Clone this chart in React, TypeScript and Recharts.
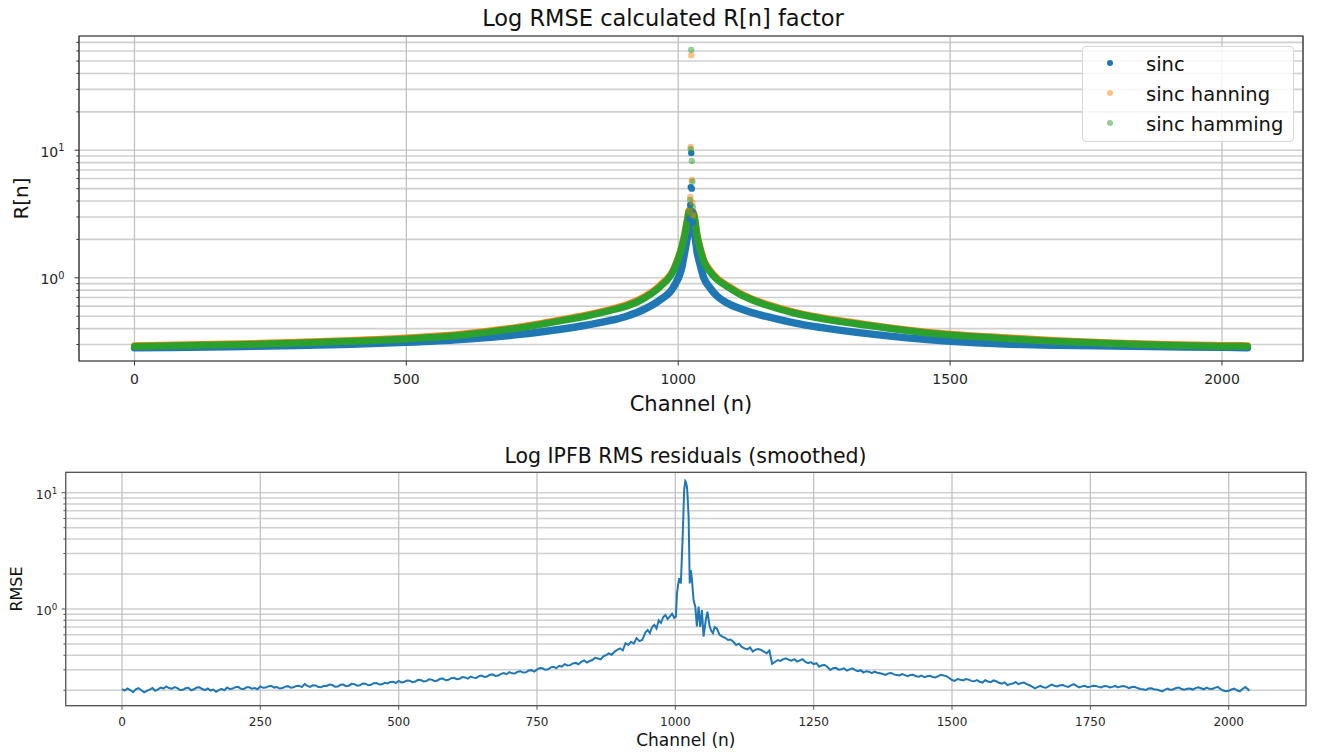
import React from 'react';
import {
  ComposedChart,
  LineChart,
  Line,
  Scatter,
  XAxis,
  YAxis,
  CartesianGrid,
  ReferenceArea,
  Legend,
} from 'recharts';

const FONT = '"DejaVu Sans", sans-serif';
const BLUE = '#1f77b4';
const ORANGE = '#ff7f0e';
const GREEN = '#2ca02c';

// ---- top panel: R[n] per channel (dense band) ----
const bandChannels = [
  0, 100, 200, 300, 400, 500, 600, 700, 784, 830, 876, 905, 937, 967, 992, 1007, 1012, 1017, 1020,
  1028, 1035, 1040, 1047, 1058, 1072, 1090, 1121, 1160, 1213, 1336, 1458, 1581, 1691, 1800, 1900, 2000, 2047,
];
const sincBand = [
  0.283, 0.286, 0.29, 0.295, 0.302, 0.312, 0.328, 0.357, 0.395, 0.425, 0.463, 0.5, 0.565, 0.673, 0.855, 1.23, 1.6, 2.1, 2.5,
  2.45, 1.57, 1.28, 1.0, 0.84, 0.715, 0.634, 0.56, 0.5, 0.443, 0.37, 0.328, 0.305, 0.296, 0.292, 0.288, 0.285, 0.283,
];
const hanningBand = [
  0.294, 0.299, 0.304, 0.312, 0.323, 0.337, 0.361, 0.407, 0.468, 0.509, 0.566, 0.614, 0.707, 0.876, 1.18, 1.8, 2.22, 2.91, 3.38,
  3.28, 2.15, 1.74, 1.38, 1.15, 0.985, 0.87, 0.727, 0.625, 0.538, 0.437, 0.375, 0.343, 0.323, 0.309, 0.3, 0.295, 0.294,
];
const hammingBand = [
  0.29, 0.295, 0.3, 0.308, 0.318, 0.332, 0.355, 0.4, 0.46, 0.5, 0.555, 0.6, 0.69, 0.855, 1.155, 1.76, 2.17, 2.84, 3.3,
  3.2, 2.1, 1.7, 1.35, 1.12, 0.965, 0.855, 0.715, 0.615, 0.53, 0.43, 0.37, 0.338, 0.318, 0.305, 0.296, 0.291, 0.29,
];

// isolated dots around the centre channel
const peakChannels = [1021, 1022, 1023, 1024, 1025, 1026, 1027];
const sincPeak = [2.9, 3.72, 5.14, 9.53, 5.0, 3.3, 2.7];
const hanningPeak = [3.3, 4.3, 10.6, 55.6, 5.83, 3.9, 3.1];
const hammingPeak = [3.2, 4.07, 10.2, 61.2, 8.25, 5.66, 3.6];

const topXTicks = [0, 500, 1000, 1500, 2000];
const topYTicks = [0.3, 0.4, 0.5, 0.6, 0.7, 0.8, 0.9, 1, 2, 3, 4, 5, 6, 7, 8, 9, 10, 20, 30, 40, 50, 60, 70];
const TOP_X = [-102, 2149];
const TOP_Y = [0.2228, 78.6];

// ---- bottom panel: smoothed RMS residuals [channel, value] ----
const residualsLeft: [number, number][] = [
  [0, 0.205], [5, 0.199], [10, 0.207], [15, 0.201], [20, 0.193], [25, 0.204], [30, 0.209], [35, 0.2], [40, 0.192], [45, 0.198],
  [50, 0.203], [55, 0.209], [60, 0.198], [65, 0.204], [70, 0.211], [75, 0.207], [80, 0.216], [85, 0.209], [90, 0.206], [95, 0.213],
  [100, 0.209], [105, 0.201], [110, 0.202], [115, 0.208], [120, 0.21], [125, 0.2], [130, 0.204], [135, 0.211], [140, 0.212], [145, 0.205],
  [150, 0.201], [155, 0.207], [160, 0.199], [165, 0.203], [170, 0.194], [175, 0.201], [180, 0.206], [185, 0.2], [190, 0.211], [195, 0.205],
  [200, 0.207], [205, 0.213], [210, 0.214], [215, 0.206], [220, 0.205], [225, 0.212], [230, 0.212], [235, 0.206], [240, 0.209], [245, 0.204],
  [250, 0.216], [255, 0.21], [260, 0.211], [265, 0.217], [270, 0.218], [275, 0.211], [280, 0.213], [285, 0.207], [290, 0.209], [295, 0.215],
  [300, 0.217], [305, 0.21], [310, 0.212], [315, 0.218], [320, 0.219], [325, 0.213], [330, 0.226], [335, 0.218], [340, 0.214], [345, 0.221],
  [350, 0.22], [355, 0.213], [360, 0.212], [365, 0.219], [370, 0.218], [375, 0.224], [380, 0.222], [385, 0.215], [390, 0.216], [395, 0.223],
  [400, 0.224], [405, 0.217], [410, 0.219], [415, 0.227], [420, 0.226], [425, 0.219], [430, 0.221], [435, 0.229], [440, 0.228], [445, 0.221],
  [450, 0.223], [455, 0.23], [460, 0.231], [465, 0.224], [470, 0.225], [475, 0.232], [480, 0.229], [485, 0.236], [490, 0.237], [495, 0.231],
  [500, 0.241], [505, 0.234], [510, 0.236], [515, 0.243], [520, 0.242], [525, 0.235], [530, 0.238], [535, 0.246], [540, 0.245], [545, 0.238],
  [550, 0.24], [555, 0.249], [560, 0.247], [565, 0.24], [570, 0.243], [575, 0.251], [580, 0.252], [585, 0.244], [590, 0.246], [595, 0.254],
  [600, 0.256], [605, 0.249], [610, 0.251], [615, 0.26], [620, 0.258], [625, 0.252], [630, 0.262], [635, 0.257], [640, 0.255], [645, 0.264],
  [650, 0.268], [655, 0.26], [660, 0.263], [665, 0.272], [670, 0.274], [675, 0.266], [680, 0.268], [685, 0.277], [690, 0.281], [695, 0.275],
  [700, 0.287], [705, 0.28], [710, 0.279], [715, 0.289], [720, 0.292], [725, 0.284], [730, 0.286], [735, 0.296], [740, 0.298], [745, 0.29],
  [750, 0.301], [755, 0.311], [760, 0.309], [765, 0.3], [770, 0.303], [775, 0.315], [780, 0.318], [785, 0.31], [790, 0.325], [795, 0.319],
  [800, 0.336], [805, 0.327], [810, 0.329], [815, 0.341], [820, 0.344], [825, 0.335], [830, 0.352], [835, 0.362], [840, 0.346], [845, 0.357],
  [850, 0.364], [855, 0.38], [860, 0.375], [865, 0.369], [870, 0.392], [875, 0.401], [880, 0.415], [885, 0.404], [890, 0.428], [895, 0.446],
  [900, 0.459], [905, 0.44], [910, 0.508], [915, 0.49], [920, 0.523], [925, 0.505], [930, 0.562], [935, 0.53], [940, 0.541],
];
const residualsPeak: [number, number][] = [
  [946, 0.63], [950, 0.66], [954, 0.62], [958, 0.7], [962, 0.73], [966, 0.68], [970, 0.8], [974, 0.76], [978, 0.85], [982, 0.89],
  [986, 0.82], [990, 0.86], [994, 0.91], [998, 0.84], [1001, 0.86], [1003, 1.36], [1005, 1.62], [1007, 1.84], [1010, 1.66], [1013, 3.9],
  [1016, 10.6], [1018, 12.6], [1019, 12.4], [1021, 11.3], [1022, 9.6], [1024, 6.2], [1026, 1.66], [1028, 2.16], [1030, 1.78], [1033, 1.19],
  [1036, 1.05], [1039, 0.71], [1042, 1.05], [1045, 0.7], [1048, 0.98], [1051, 0.58], [1055, 0.8], [1058, 0.95], [1062, 0.71], [1065, 0.65],
  [1068, 0.62], [1071, 0.7], [1075, 0.68], [1080, 0.6],
];
const residualsRight: [number, number][] = [
  [1085, 0.578], [1090, 0.565], [1095, 0.541], [1100, 0.546], [1105, 0.52], [1110, 0.49], [1115, 0.503], [1120, 0.472], [1125, 0.459], [1130, 0.45],
  [1135, 0.468], [1140, 0.43], [1145, 0.447], [1150, 0.452], [1155, 0.444], [1160, 0.43], [1165, 0.416], [1170, 0.44], [1175, 0.337], [1180, 0.35],
  [1185, 0.364], [1190, 0.358], [1195, 0.37], [1200, 0.377], [1205, 0.366], [1210, 0.36], [1215, 0.37], [1220, 0.353], [1225, 0.362], [1230, 0.37],
  [1235, 0.35], [1240, 0.342], [1245, 0.349], [1250, 0.335], [1255, 0.342], [1260, 0.319], [1265, 0.328], [1270, 0.33], [1275, 0.317], [1280, 0.299],
  [1285, 0.31], [1290, 0.312], [1295, 0.301], [1300, 0.303], [1305, 0.309], [1310, 0.296], [1315, 0.303], [1320, 0.309], [1325, 0.298], [1330, 0.292],
  [1335, 0.298], [1340, 0.284], [1345, 0.292], [1350, 0.289], [1355, 0.281], [1360, 0.289], [1365, 0.283], [1370, 0.28], [1375, 0.276], [1380, 0.271],
  [1385, 0.279], [1390, 0.282], [1395, 0.274], [1400, 0.271], [1405, 0.268], [1410, 0.276], [1415, 0.27], [1420, 0.265], [1425, 0.271], [1430, 0.272],
  [1435, 0.264], [1440, 0.262], [1445, 0.268], [1450, 0.259], [1455, 0.264], [1460, 0.266], [1465, 0.26], [1470, 0.258], [1475, 0.265], [1480, 0.272],
  [1485, 0.268], [1490, 0.265], [1495, 0.255], [1500, 0.245], [1505, 0.241], [1510, 0.25], [1515, 0.246], [1520, 0.243], [1525, 0.25], [1530, 0.247],
  [1535, 0.241], [1540, 0.239], [1545, 0.245], [1550, 0.237], [1555, 0.233], [1560, 0.244], [1565, 0.238], [1570, 0.235], [1575, 0.243], [1580, 0.239],
  [1585, 0.232], [1590, 0.228], [1595, 0.234], [1600, 0.222], [1605, 0.226], [1610, 0.229], [1615, 0.235], [1620, 0.226], [1625, 0.231], [1630, 0.233],
  [1635, 0.226], [1640, 0.221], [1645, 0.215], [1650, 0.208], [1655, 0.214], [1660, 0.218], [1665, 0.212], [1670, 0.21], [1675, 0.217], [1680, 0.224],
  [1685, 0.219], [1690, 0.216], [1695, 0.221], [1700, 0.222], [1705, 0.217], [1710, 0.214], [1715, 0.22], [1720, 0.226], [1725, 0.218], [1730, 0.212],
  [1735, 0.216], [1740, 0.219], [1745, 0.213], [1750, 0.215], [1755, 0.219], [1760, 0.218], [1765, 0.214], [1770, 0.212], [1775, 0.218], [1780, 0.217],
  [1785, 0.212], [1790, 0.214], [1795, 0.218], [1800, 0.212], [1805, 0.216], [1810, 0.218], [1815, 0.214], [1820, 0.209], [1825, 0.213], [1830, 0.214],
  [1835, 0.209], [1840, 0.205], [1845, 0.204], [1850, 0.201], [1855, 0.207], [1860, 0.208], [1865, 0.204], [1870, 0.203], [1875, 0.199], [1880, 0.196],
  [1885, 0.203], [1890, 0.207], [1895, 0.201], [1900, 0.204], [1905, 0.209], [1910, 0.211], [1915, 0.205], [1920, 0.202], [1925, 0.206], [1930, 0.207],
  [1935, 0.203], [1940, 0.209], [1945, 0.212], [1950, 0.208], [1955, 0.204], [1960, 0.211], [1965, 0.206], [1970, 0.205], [1975, 0.21], [1980, 0.214],
  [1985, 0.206], [1990, 0.199], [1995, 0.196], [2000, 0.198], [2005, 0.203], [2010, 0.207], [2015, 0.2], [2020, 0.196], [2025, 0.205], [2030, 0.213],
  [2035, 0.204], [2037, 0.198],
];

const bottomXTicks = [0, 250, 500, 750, 1000, 1250, 1500, 1750, 2000];
const bottomYTicks = [0.2, 0.3, 0.4, 0.5, 0.6, 0.7, 0.8, 0.9, 1, 2, 3, 4, 5, 6, 7, 8, 9, 10];
const BOT_X = [-101.7, 2139.7];
const BOT_Y = [0.1474, 14.98];

const legendItems = [
  { name: 'sinc', color: BLUE, opacity: 1 },
  { name: 'sinc hanning', color: ORANGE, opacity: 0.5 },
  { name: 'sinc hamming', color: GREEN, opacity: 0.5 },
];

const toRows = (xs: number[], ys: number[]) => xs.map((n, i) => ({ n, r: ys[i] }));
const pairRows = (ps: [number, number][]) => ps.map(([n, r]) => ({ n, r }));

const isDecade = (v: number) => {
  const e = Math.log10(v);
  return Math.abs(e - Math.round(e)) < 1e-6;
};

const makeYTick = (o: { major: number; minor: number; gap: number; dy: number; size: number; sup: number; color: string }) =>
  (props: any) => {
    const { x, y, payload } = props;
    const major = isDecade(payload.value);
    return (
      <g>
        <line x1={x - (major ? o.major : o.minor)} x2={x} y1={y} y2={y} stroke={o.color} strokeWidth={1} />
        {major && (
          <text x={x - o.gap} y={y + o.dy} textAnchor="end" fontFamily={FONT} fontSize={o.size} fill="#262626">
            <tspan>10</tspan>
            <tspan dy={-o.sup} fontSize={o.size * 0.7}>{Math.round(Math.log10(payload.value))}</tspan>
          </text>
        )}
      </g>
    );
  };

const makeXTick = (o: { len: number; dy: number; size: number; color: string }) => (props: any) => {
  const { x, y, payload } = props;
  return (
    <g>
      <line x1={x} x2={x} y1={y} y2={y + o.len} stroke={o.color} strokeWidth={1} />
      <text x={x} y={y + o.dy} textAnchor="middle" fontFamily={FONT} fontSize={o.size} fill="#262626">
        {payload.value}
      </text>
    </g>
  );
};

const dotShape = (color: string, opacity: number) => (p: any) =>
  <circle cx={p.cx} cy={p.cy} r={3.2} fill={color} fillOpacity={opacity} />;

const TopLegend = () => (
  <div
    style={{
      width: 212,
      height: 96,
      boxSizing: 'border-box',
      border: '1px solid #d6d6d6',
      borderRadius: 4,
      background: 'rgba(255,255,255,0.8)',
      position: 'relative',
      fontFamily: FONT,
    }}
  >
    {legendItems.map((it, i) => (
      <React.Fragment key={it.name}>
        <span
          style={{
            position: 'absolute',
            left: 27 - 3.2,
            top: 16.3 + i * 30 - 3.2,
            width: 6.4,
            height: 6.4,
            borderRadius: '50%',
            background: it.color,
            opacity: it.opacity,
          }}
        />
        <span
          style={{
            position: 'absolute',
            left: 63,
            top: 7.5 + i * 30,
            fontSize: 19.5,
            lineHeight: '19.5px',
            color: '#111',
            whiteSpace: 'nowrap',
          }}
        >
          {it.name}
        </span>
      </React.Fragment>
    ))}
  </div>
);

const TopChart = () => (
  <ComposedChart width={1317} height={420} margin={{ top: 36, right: 14, bottom: 9, left: 0 }}>
    <CartesianGrid horizontal vertical={false} stroke="#d0d0d0" strokeWidth={1.6} />
    <CartesianGrid horizontal={false} vertical stroke="#c2c2c2" strokeWidth={1.3} />
    <XAxis
      dataKey="n"
      type="number"
      domain={TOP_X}
      allowDataOverflow
      ticks={topXTicks}
      interval={0}
      height={50}
      axisLine={false}
      tickLine={false}
      tickSize={0}
      tickMargin={0}
      tick={makeXTick({ len: 4.5, dy: 22.5, size: 14, color: '#333' })}
      label={{ value: 'Channel (n)', position: 'insideBottom', offset: 0, fontSize: 21, fontFamily: FONT, fill: '#111' }}
    />
    <YAxis
      dataKey="r"
      type="number"
      scale="log"
      domain={TOP_Y}
      allowDataOverflow
      ticks={topYTicks}
      interval={0}
      width={79}
      axisLine={false}
      tickLine={false}
      tickSize={0}
      tickMargin={0}
      tick={makeYTick({ major: 4.5, minor: 2.6, gap: 14.5, dy: 6.5, size: 14, sup: 5.5, color: '#333' })}
      label={{ value: 'R[n]', angle: -90, position: 'insideLeft', offset: 21, fontSize: 20, fontFamily: FONT, fill: '#111', style: { textAnchor: 'middle' } }}
    />
    <Line data={toRows(bandChannels, sincBand)} dataKey="r" type="monotone" stroke={BLUE} strokeWidth={7.5} strokeLinecap="round" strokeLinejoin="round" dot={false} isAnimationActive={false} />
    <Line data={toRows(bandChannels, hanningBand)} dataKey="r" type="monotone" stroke={ORANGE} strokeWidth={7} strokeLinecap="round" strokeLinejoin="round" dot={false} isAnimationActive={false} />
    <Line data={toRows(bandChannels, hammingBand)} dataKey="r" type="monotone" stroke={GREEN} strokeWidth={7} strokeLinecap="round" strokeLinejoin="round" dot={false} isAnimationActive={false} />
    <Scatter data={toRows(peakChannels, sincPeak)} dataKey="r" shape={dotShape(BLUE, 1)} isAnimationActive={false} />
    <Scatter data={toRows(peakChannels, hanningPeak)} dataKey="r" shape={dotShape(ORANGE, 0.5)} isAnimationActive={false} />
    <Scatter data={toRows(peakChannels, hammingPeak)} dataKey="r" shape={dotShape(GREEN, 0.5)} isAnimationActive={false} />
    <ReferenceArea x1={TOP_X[0]} x2={TOP_X[1]} y1={TOP_Y[0]} y2={TOP_Y[1]} fill="none" stroke="#262626" strokeWidth={1.2} />
    <Legend
      layout="horizontal"
      verticalAlign="middle"
      align="center"
      content={() => <TopLegend />}
      wrapperStyle={{ position: 'absolute', left: 1082, top: 46, width: 212, height: 96 }}
    />
  </ComposedChart>
);

const BottomChart = () => (
  <LineChart
    width={1317}
    height={332}
    data={pairRows([...residualsLeft, ...residualsPeak, ...residualsRight])}
    margin={{ top: 52.3, right: 11, bottom: 6, left: 0 }}
  >
    <CartesianGrid horizontal vertical={false} stroke="#d0d0d0" strokeWidth={1.6} />
    <CartesianGrid horizontal={false} vertical stroke="#c2c2c2" strokeWidth={1.3} />
    <XAxis
      dataKey="n"
      type="number"
      domain={BOT_X}
      allowDataOverflow
      ticks={bottomXTicks}
      interval={0}
      height={40.3}
      axisLine={false}
      tickLine={false}
      tickSize={0}
      tickMargin={0}
      tick={makeXTick({ len: 4, dy: 20.3, size: 12, color: '#555' })}
      label={{ value: 'Channel (n)', position: 'insideBottom', offset: 0, fontSize: 17, fontFamily: FONT, fill: '#111' }}
    />
    <YAxis
      dataKey="r"
      type="number"
      scale="log"
      domain={BOT_Y}
      allowDataOverflow
      ticks={bottomYTicks}
      interval={0}
      width={65.7}
      axisLine={false}
      tickLine={false}
      tickSize={0}
      tickMargin={0}
      tick={makeYTick({ major: 4, minor: 2.3, gap: 8.4, dy: 5.8, size: 12.5, sup: 5, color: '#555' })}
      label={{ value: 'RMSE', angle: -90, position: 'insideLeft', offset: 16, fontSize: 16, fontFamily: FONT, fill: '#111', style: { textAnchor: 'middle' } }}
    />
    <Line dataKey="r" type="linear" stroke={BLUE} strokeWidth={2} dot={false} isAnimationActive={false} />
    <ReferenceArea x1={BOT_X[0]} x2={BOT_X[1]} y1={BOT_Y[0]} y2={BOT_Y[1]} fill="none" stroke="#555" strokeWidth={1.2} />
  </LineChart>
);

const titleStyle = (top: number, size: number, center: number): React.CSSProperties => ({
  position: 'absolute',
  top,
  left: center - 400,
  width: 800,
  textAlign: 'center',
  fontFamily: FONT,
  fontSize: size,
  lineHeight: `${size}px`,
  color: '#111',
  whiteSpace: 'nowrap',
});

export default function App() {
  return (
    <div style={{ position: 'absolute', left: 0, top: 0, width: 1317, height: 752, background: '#fff', overflow: 'hidden' }}>
      <div style={{ position: 'absolute', left: 0, top: 0 }}>
        <TopChart />
      </div>
      <div style={{ position: 'absolute', left: 0, top: 420 }}>
        <BottomChart />
      </div>
      <div style={titleStyle(7, 22.5, 663)}>Log RMSE calculated R[n] factor</div>
      <div style={titleStyle(446, 20.5, 685.5)}>Log IPFB RMS residuals (smoothed)</div>
    </div>
  );
}
